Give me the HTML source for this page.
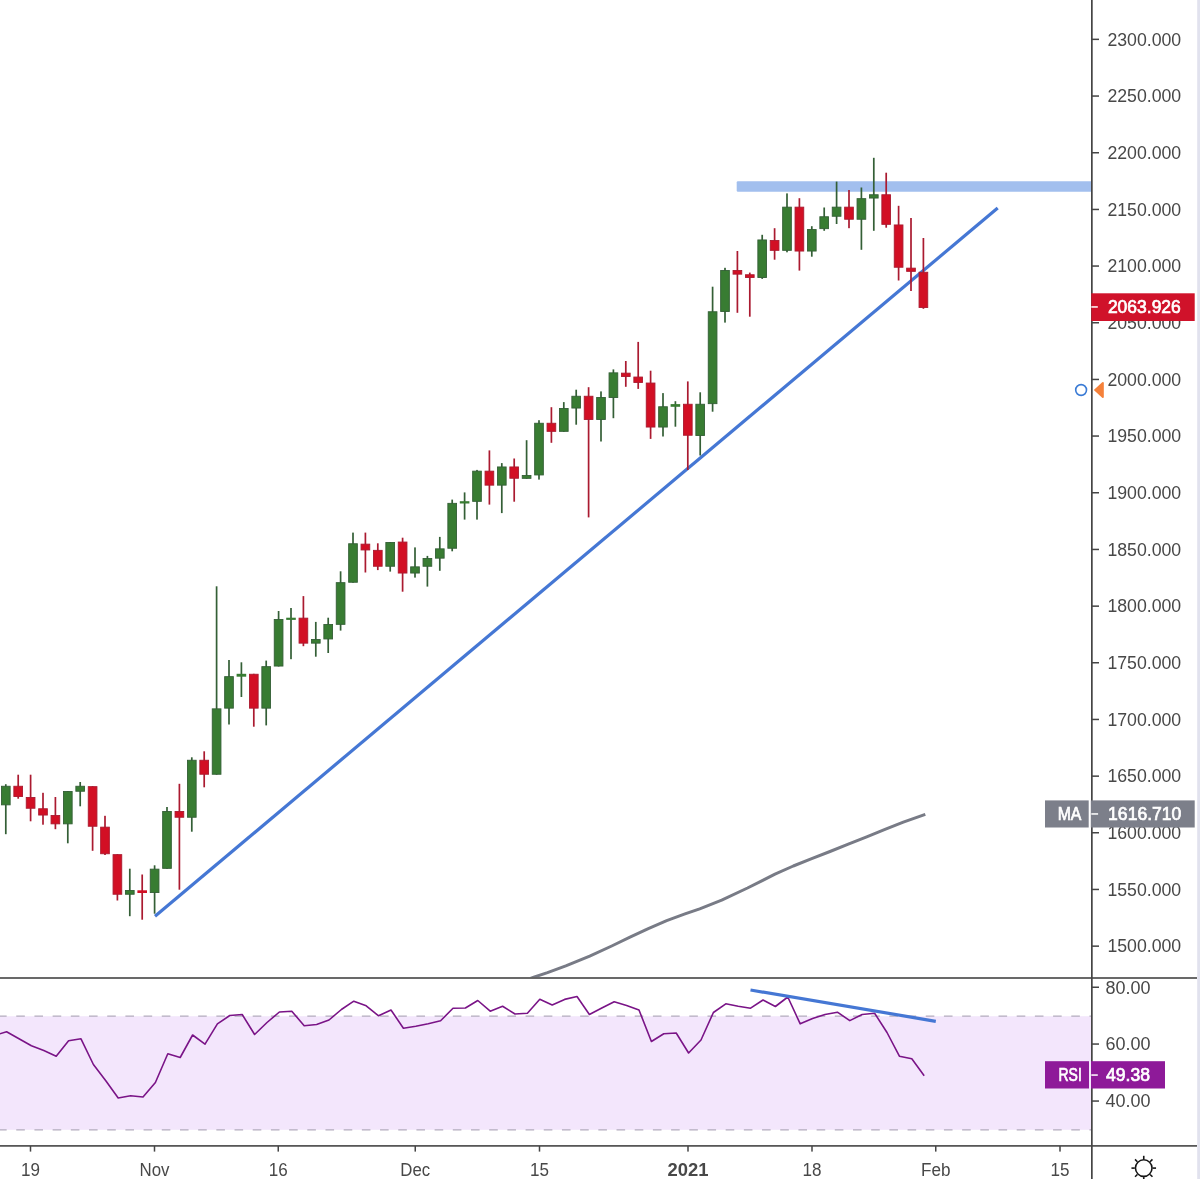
<!DOCTYPE html>
<html lang="en"><head><meta charset="utf-8"><title>Chart</title>
<style>html,body{margin:0;padding:0;background:#fff}body{width:1200px;height:1179px;overflow:hidden}svg{display:block}text{font-family:"Liberation Sans",sans-serif;font-size:18px}</style></head><body>
<svg width="1200" height="1179" viewBox="0 0 1200 1179">
<rect width="1200" height="1179" fill="#fff"/>
<rect x="1197.2" y="0" width="2.8" height="1179" fill="#e1e2ee"/>
<defs><clipPath id="mp"><rect x="0" y="0" width="1091" height="977.3"/></clipPath><clipPath id="rp"><rect x="0" y="978.7" width="1091" height="166.5"/></clipPath></defs>
<g clip-path="url(#mp)">
<rect x="736.7" y="181.2" width="360" height="10.5" rx="1.2" fill="#a2bfee"/>
<polyline fill="none" stroke="#787b86" stroke-width="3" stroke-linejoin="round" points="530.5,978.4 533.8,977.2 547.5,972.6 565.8,965.8 589.7,956.1 611.7,946.0 630.0,937.2 648.3,928.6 666.7,920.7 685.0,913.9 699.7,908.8 721.7,900.2 747.5,888.0 775.0,874.2 793.3,866.0 811.7,858.6 830.0,851.5 848.3,844.1 866.7,836.8 885.0,829.3 903.3,822.1 925.3,814.3"/>
<line x1="155" y1="916.3" x2="997.7" y2="208" stroke="#4577d4" stroke-width="3.2"/>
<rect x="4.95" y="784.2" width="1.7" height="50.0" fill="#345f36"/>
<rect x="1.45" y="786.25" width="8.7" height="18.60" fill="#387c32" stroke="#345f36" stroke-width="0.9"/>
<rect x="17.35" y="774.7" width="1.7" height="24.0" fill="#aa1a30"/>
<rect x="13.85" y="786.25" width="8.7" height="10.30" fill="#d20f24" stroke="#aa1a30" stroke-width="0.9"/>
<rect x="29.75" y="774.7" width="1.7" height="46.6" fill="#aa1a30"/>
<rect x="26.25" y="797.45" width="8.7" height="10.80" fill="#d20f24" stroke="#aa1a30" stroke-width="0.9"/>
<rect x="42.15" y="792.8" width="1.7" height="31.9" fill="#aa1a30"/>
<rect x="38.65" y="808.75" width="8.7" height="6.30" fill="#d20f24" stroke="#aa1a30" stroke-width="0.9"/>
<rect x="54.55" y="797.0" width="1.7" height="32.2" fill="#aa1a30"/>
<rect x="51.05" y="815.45" width="8.7" height="8.40" fill="#d20f24" stroke="#aa1a30" stroke-width="0.9"/>
<rect x="66.95" y="791.0" width="1.7" height="52.3" fill="#345f36"/>
<rect x="63.45" y="791.45" width="8.7" height="32.40" fill="#387c32" stroke="#345f36" stroke-width="0.9"/>
<rect x="79.35" y="782.0" width="1.7" height="24.3" fill="#345f36"/>
<rect x="75.85" y="786.25" width="8.7" height="5.00" fill="#387c32" stroke="#345f36" stroke-width="0.9"/>
<rect x="91.75" y="786.2" width="1.7" height="64.6" fill="#aa1a30"/>
<rect x="88.25" y="786.65" width="8.7" height="39.60" fill="#d20f24" stroke="#aa1a30" stroke-width="0.9"/>
<rect x="104.15" y="815.8" width="1.7" height="39.2" fill="#aa1a30"/>
<rect x="100.65" y="827.15" width="8.7" height="26.60" fill="#d20f24" stroke="#aa1a30" stroke-width="0.9"/>
<rect x="116.55" y="854.2" width="1.7" height="46.3" fill="#aa1a30"/>
<rect x="113.05" y="854.65" width="8.7" height="39.60" fill="#d20f24" stroke="#aa1a30" stroke-width="0.9"/>
<rect x="128.95" y="868.7" width="1.7" height="47.5" fill="#345f36"/>
<rect x="125.45" y="890.45" width="8.7" height="3.80" fill="#387c32" stroke="#345f36" stroke-width="0.9"/>
<rect x="141.35" y="874.5" width="1.7" height="45.2" fill="#aa1a30"/>
<rect x="137.40" y="890.3" width="9.6" height="2.7" fill="#d20f24"/>
<rect x="153.75" y="865.3" width="1.7" height="48.4" fill="#345f36"/>
<rect x="150.25" y="869.15" width="8.7" height="23.40" fill="#387c32" stroke="#345f36" stroke-width="0.9"/>
<rect x="166.15" y="807.0" width="1.7" height="61.8" fill="#345f36"/>
<rect x="162.65" y="811.45" width="8.7" height="56.90" fill="#387c32" stroke="#345f36" stroke-width="0.9"/>
<rect x="178.55" y="783.8" width="1.7" height="105.9" fill="#aa1a30"/>
<rect x="175.05" y="811.45" width="8.7" height="5.80" fill="#d20f24" stroke="#aa1a30" stroke-width="0.9"/>
<rect x="190.95" y="757.3" width="1.7" height="74.4" fill="#345f36"/>
<rect x="187.45" y="760.25" width="8.7" height="57.00" fill="#387c32" stroke="#345f36" stroke-width="0.9"/>
<rect x="203.35" y="751.3" width="1.7" height="36.0" fill="#aa1a30"/>
<rect x="199.85" y="760.25" width="8.7" height="14.00" fill="#d20f24" stroke="#aa1a30" stroke-width="0.9"/>
<rect x="215.75" y="586.3" width="1.7" height="188.4" fill="#345f36"/>
<rect x="212.25" y="708.85" width="8.7" height="65.40" fill="#387c32" stroke="#345f36" stroke-width="0.9"/>
<rect x="228.15" y="660.0" width="1.7" height="64.5" fill="#345f36"/>
<rect x="224.65" y="676.65" width="8.7" height="31.50" fill="#387c32" stroke="#345f36" stroke-width="0.9"/>
<rect x="240.55" y="662.3" width="1.7" height="34.7" fill="#345f36"/>
<rect x="236.60" y="673.8" width="9.6" height="2.9" fill="#387c32"/>
<rect x="252.95" y="673.8" width="1.7" height="52.9" fill="#aa1a30"/>
<rect x="249.45" y="674.25" width="8.7" height="33.90" fill="#d20f24" stroke="#aa1a30" stroke-width="0.9"/>
<rect x="265.35" y="660.6" width="1.7" height="64.8" fill="#345f36"/>
<rect x="261.85" y="666.65" width="8.7" height="41.50" fill="#387c32" stroke="#345f36" stroke-width="0.9"/>
<rect x="277.75" y="611.0" width="1.7" height="55.5" fill="#345f36"/>
<rect x="274.25" y="619.45" width="8.7" height="46.60" fill="#387c32" stroke="#345f36" stroke-width="0.9"/>
<rect x="290.15" y="608.0" width="1.7" height="51.2" fill="#345f36"/>
<rect x="286.20" y="617.7" width="9.6" height="2.2" fill="#387c32"/>
<rect x="302.55" y="596.1" width="1.7" height="50.1" fill="#aa1a30"/>
<rect x="299.05" y="618.15" width="8.7" height="25.00" fill="#d20f24" stroke="#aa1a30" stroke-width="0.9"/>
<rect x="314.95" y="621.9" width="1.7" height="34.8" fill="#345f36"/>
<rect x="311.45" y="639.45" width="8.7" height="3.70" fill="#387c32" stroke="#345f36" stroke-width="0.9"/>
<rect x="327.35" y="617.7" width="1.7" height="35.3" fill="#345f36"/>
<rect x="323.85" y="624.55" width="8.7" height="14.40" fill="#387c32" stroke="#345f36" stroke-width="0.9"/>
<rect x="339.75" y="571.3" width="1.7" height="59.3" fill="#345f36"/>
<rect x="336.25" y="582.65" width="8.7" height="41.70" fill="#387c32" stroke="#345f36" stroke-width="0.9"/>
<rect x="352.15" y="532.6" width="1.7" height="50.1" fill="#345f36"/>
<rect x="348.65" y="543.75" width="8.7" height="38.50" fill="#387c32" stroke="#345f36" stroke-width="0.9"/>
<rect x="364.55" y="532.6" width="1.7" height="39.9" fill="#aa1a30"/>
<rect x="361.05" y="544.15" width="8.7" height="5.80" fill="#d20f24" stroke="#aa1a30" stroke-width="0.9"/>
<rect x="376.95" y="543.3" width="1.7" height="26.8" fill="#aa1a30"/>
<rect x="373.45" y="550.35" width="8.7" height="15.90" fill="#d20f24" stroke="#aa1a30" stroke-width="0.9"/>
<rect x="389.35" y="542.0" width="1.7" height="29.6" fill="#345f36"/>
<rect x="385.85" y="542.45" width="8.7" height="23.80" fill="#387c32" stroke="#345f36" stroke-width="0.9"/>
<rect x="401.75" y="537.7" width="1.7" height="54.0" fill="#aa1a30"/>
<rect x="398.25" y="542.05" width="8.7" height="31.00" fill="#d20f24" stroke="#aa1a30" stroke-width="0.9"/>
<rect x="414.15" y="547.4" width="1.7" height="30.2" fill="#345f36"/>
<rect x="410.65" y="566.85" width="8.7" height="6.20" fill="#387c32" stroke="#345f36" stroke-width="0.9"/>
<rect x="426.55" y="555.9" width="1.7" height="30.7" fill="#345f36"/>
<rect x="423.05" y="558.55" width="8.7" height="7.70" fill="#387c32" stroke="#345f36" stroke-width="0.9"/>
<rect x="438.95" y="536.9" width="1.7" height="33.9" fill="#345f36"/>
<rect x="435.45" y="548.85" width="8.7" height="9.30" fill="#387c32" stroke="#345f36" stroke-width="0.9"/>
<rect x="451.35" y="499.6" width="1.7" height="51.7" fill="#345f36"/>
<rect x="447.85" y="503.35" width="8.7" height="44.90" fill="#387c32" stroke="#345f36" stroke-width="0.9"/>
<rect x="463.75" y="492.4" width="1.7" height="27.2" fill="#345f36"/>
<rect x="459.80" y="501.2" width="9.6" height="2.3" fill="#387c32"/>
<rect x="476.15" y="469.9" width="1.7" height="49.7" fill="#345f36"/>
<rect x="472.65" y="471.15" width="8.7" height="30.20" fill="#387c32" stroke="#345f36" stroke-width="0.9"/>
<rect x="488.55" y="450.4" width="1.7" height="54.2" fill="#aa1a30"/>
<rect x="485.05" y="471.15" width="8.7" height="14.00" fill="#d20f24" stroke="#aa1a30" stroke-width="0.9"/>
<rect x="500.95" y="463.1" width="1.7" height="50.0" fill="#345f36"/>
<rect x="497.45" y="466.95" width="8.7" height="18.20" fill="#387c32" stroke="#345f36" stroke-width="0.9"/>
<rect x="513.35" y="458.5" width="1.7" height="43.2" fill="#aa1a30"/>
<rect x="509.85" y="466.95" width="8.7" height="11.30" fill="#d20f24" stroke="#aa1a30" stroke-width="0.9"/>
<rect x="525.75" y="440.2" width="1.7" height="38.6" fill="#345f36"/>
<rect x="522.25" y="475.45" width="8.7" height="2.90" fill="#387c32" stroke="#345f36" stroke-width="0.9"/>
<rect x="538.15" y="420.2" width="1.7" height="59.4" fill="#345f36"/>
<rect x="534.65" y="423.25" width="8.7" height="51.70" fill="#387c32" stroke="#345f36" stroke-width="0.9"/>
<rect x="550.55" y="407.2" width="1.7" height="35.6" fill="#aa1a30"/>
<rect x="547.05" y="423.25" width="8.7" height="8.10" fill="#d20f24" stroke="#aa1a30" stroke-width="0.9"/>
<rect x="562.95" y="402.1" width="1.7" height="29.7" fill="#345f36"/>
<rect x="559.45" y="408.45" width="8.7" height="22.90" fill="#387c32" stroke="#345f36" stroke-width="0.9"/>
<rect x="575.35" y="389.7" width="1.7" height="35.0" fill="#345f36"/>
<rect x="571.85" y="396.25" width="8.7" height="11.80" fill="#387c32" stroke="#345f36" stroke-width="0.9"/>
<rect x="587.75" y="387.2" width="1.7" height="130.2" fill="#aa1a30"/>
<rect x="584.25" y="396.25" width="8.7" height="23.20" fill="#d20f24" stroke="#aa1a30" stroke-width="0.9"/>
<rect x="600.15" y="391.4" width="1.7" height="50.1" fill="#345f36"/>
<rect x="596.65" y="397.45" width="8.7" height="22.00" fill="#387c32" stroke="#345f36" stroke-width="0.9"/>
<rect x="612.55" y="369.4" width="1.7" height="48.8" fill="#345f36"/>
<rect x="609.05" y="372.85" width="8.7" height="24.60" fill="#387c32" stroke="#345f36" stroke-width="0.9"/>
<rect x="624.95" y="361.0" width="1.7" height="25.8" fill="#aa1a30"/>
<rect x="621.45" y="373.15" width="8.7" height="3.40" fill="#d20f24" stroke="#aa1a30" stroke-width="0.9"/>
<rect x="637.35" y="341.9" width="1.7" height="47.0" fill="#aa1a30"/>
<rect x="633.85" y="377.05" width="8.7" height="5.40" fill="#d20f24" stroke="#aa1a30" stroke-width="0.9"/>
<rect x="649.75" y="370.7" width="1.7" height="68.2" fill="#aa1a30"/>
<rect x="646.25" y="383.05" width="8.7" height="44.00" fill="#d20f24" stroke="#aa1a30" stroke-width="0.9"/>
<rect x="662.15" y="393.1" width="1.7" height="43.4" fill="#345f36"/>
<rect x="658.65" y="406.75" width="8.7" height="20.30" fill="#387c32" stroke="#345f36" stroke-width="0.9"/>
<rect x="674.55" y="401.2" width="1.7" height="25.5" fill="#345f36"/>
<rect x="670.60" y="404.1" width="9.6" height="2.7" fill="#387c32"/>
<rect x="686.95" y="381.4" width="1.7" height="88.6" fill="#aa1a30"/>
<rect x="683.45" y="404.25" width="8.7" height="31.00" fill="#d20f24" stroke="#aa1a30" stroke-width="0.9"/>
<rect x="699.35" y="392.3" width="1.7" height="63.2" fill="#345f36"/>
<rect x="695.85" y="404.25" width="8.7" height="31.30" fill="#387c32" stroke="#345f36" stroke-width="0.9"/>
<rect x="711.75" y="286.7" width="1.7" height="125.0" fill="#345f36"/>
<rect x="708.25" y="311.75" width="8.7" height="91.90" fill="#387c32" stroke="#345f36" stroke-width="0.9"/>
<rect x="724.15" y="267.8" width="1.7" height="54.8" fill="#345f36"/>
<rect x="720.65" y="270.45" width="8.7" height="41.00" fill="#387c32" stroke="#345f36" stroke-width="0.9"/>
<rect x="736.55" y="251.0" width="1.7" height="61.8" fill="#aa1a30"/>
<rect x="733.05" y="270.45" width="8.7" height="3.70" fill="#d20f24" stroke="#aa1a30" stroke-width="0.9"/>
<rect x="748.95" y="272.6" width="1.7" height="44.1" fill="#aa1a30"/>
<rect x="745.45" y="274.75" width="8.7" height="2.80" fill="#d20f24" stroke="#aa1a30" stroke-width="0.9"/>
<rect x="761.35" y="234.8" width="1.7" height="44.1" fill="#345f36"/>
<rect x="757.85" y="239.95" width="8.7" height="37.60" fill="#387c32" stroke="#345f36" stroke-width="0.9"/>
<rect x="773.75" y="228.2" width="1.7" height="31.5" fill="#aa1a30"/>
<rect x="770.25" y="240.45" width="8.7" height="9.90" fill="#d20f24" stroke="#aa1a30" stroke-width="0.9"/>
<rect x="786.15" y="193.4" width="1.7" height="58.9" fill="#345f36"/>
<rect x="782.65" y="207.15" width="8.7" height="43.20" fill="#387c32" stroke="#345f36" stroke-width="0.9"/>
<rect x="798.55" y="198.2" width="1.7" height="72.4" fill="#aa1a30"/>
<rect x="795.05" y="207.15" width="8.7" height="43.90" fill="#d20f24" stroke="#aa1a30" stroke-width="0.9"/>
<rect x="810.95" y="226.2" width="1.7" height="30.5" fill="#345f36"/>
<rect x="807.45" y="229.55" width="8.7" height="21.50" fill="#387c32" stroke="#345f36" stroke-width="0.9"/>
<rect x="823.35" y="207.5" width="1.7" height="23.3" fill="#345f36"/>
<rect x="819.85" y="216.75" width="8.7" height="11.90" fill="#387c32" stroke="#345f36" stroke-width="0.9"/>
<rect x="835.75" y="181.6" width="1.7" height="42.4" fill="#345f36"/>
<rect x="832.25" y="207.15" width="8.7" height="9.10" fill="#387c32" stroke="#345f36" stroke-width="0.9"/>
<rect x="848.15" y="190.0" width="1.7" height="38.2" fill="#aa1a30"/>
<rect x="844.65" y="207.15" width="8.7" height="12.10" fill="#d20f24" stroke="#aa1a30" stroke-width="0.9"/>
<rect x="860.55" y="187.5" width="1.7" height="62.3" fill="#345f36"/>
<rect x="857.05" y="198.65" width="8.7" height="20.60" fill="#387c32" stroke="#345f36" stroke-width="0.9"/>
<rect x="872.95" y="157.8" width="1.7" height="73.0" fill="#345f36"/>
<rect x="869.45" y="194.75" width="8.7" height="3.30" fill="#387c32" stroke="#345f36" stroke-width="0.9"/>
<rect x="885.35" y="172.7" width="1.7" height="55.0" fill="#aa1a30"/>
<rect x="881.85" y="194.75" width="8.7" height="29.60" fill="#d20f24" stroke="#aa1a30" stroke-width="0.9"/>
<rect x="897.75" y="205.8" width="1.7" height="74.7" fill="#aa1a30"/>
<rect x="894.25" y="224.95" width="8.7" height="42.30" fill="#d20f24" stroke="#aa1a30" stroke-width="0.9"/>
<rect x="910.15" y="218.0" width="1.7" height="73.0" fill="#aa1a30"/>
<rect x="906.65" y="268.15" width="8.7" height="3.20" fill="#d20f24" stroke="#aa1a30" stroke-width="0.9"/>
<rect x="922.55" y="238.0" width="1.7" height="70.8" fill="#aa1a30"/>
<rect x="919.05" y="272.25" width="8.7" height="35.20" fill="#d20f24" stroke="#aa1a30" stroke-width="0.9"/>
</g>
<g clip-path="url(#rp)">
<rect x="0" y="1016.2" width="1091" height="113.6" fill="#f3e6fc"/>
<line x1="-1.94" y1="1016.2" x2="1091" y2="1016.2" stroke="#b3acbd" stroke-width="1.2" stroke-dasharray="8.6 9.59"/>
<line x1="-1.94" y1="1129.9" x2="1091" y2="1129.9" stroke="#b3acbd" stroke-width="1.2" stroke-dasharray="8.6 9.59"/>
<polyline fill="none" stroke="#7a1487" stroke-width="1.6" stroke-linejoin="round" points="-5.8,1035.5 6.6,1031.8 19.0,1038.8 31.4,1045.8 43.8,1050.5 56.2,1056.2 68.6,1040.8 81.0,1038.8 93.4,1064.5 105.8,1080.8 118.2,1098.0 130.6,1095.8 143.0,1097.0 155.4,1082.5 167.8,1053.8 180.2,1057.5 192.6,1035.0 205.0,1044.2 217.4,1023.8 229.8,1015.5 242.2,1014.5 254.6,1034.5 267.0,1022.5 279.4,1012.0 291.8,1011.2 304.2,1025.8 316.6,1024.5 329.0,1020.0 341.4,1009.5 353.8,1001.2 366.2,1005.8 378.6,1015.8 391.0,1010.0 403.4,1028.2 415.8,1026.2 428.2,1023.8 440.6,1020.8 453.0,1008.2 465.4,1008.0 477.8,1000.5 490.2,1011.2 502.6,1006.2 515.0,1014.0 527.4,1013.2 539.8,999.2 552.2,1005.0 564.6,999.4 577.0,996.5 589.4,1014.5 601.8,1008.0 614.2,1001.8 626.6,1005.5 639.0,1010.0 651.4,1041.5 663.8,1033.8 676.2,1033.0 688.6,1053.0 701.0,1040.0 713.4,1012.5 725.8,1003.8 738.2,1006.2 750.6,1008.2 763.0,1000.0 775.4,1006.5 787.8,997.0 800.2,1023.8 812.6,1018.5 825.0,1014.5 837.4,1012.2 849.8,1020.6 862.2,1014.5 874.6,1013.2 887.0,1032.5 899.4,1056.2 911.8,1058.8 924.2,1075.8"/>
<line x1="750.5" y1="990" x2="935.8" y2="1021.3" stroke="#4577d4" stroke-width="3.2"/>
</g>
<rect x="1091" y="0" width="1.7" height="1179" fill="#454545"/>
<rect x="0" y="977.2" width="1197" height="1.6" fill="#454545"/>
<rect x="0" y="1145.1" width="1197" height="1.6" fill="#454545"/>
<rect x="1092" y="38.6" width="7" height="1.5" fill="#454545"/>
<text x="1107.4" y="45.7" textLength="73.8" lengthAdjust="spacingAndGlyphs" fill="#484848">2300.000</text>
<rect x="1092" y="95.3" width="7" height="1.5" fill="#454545"/>
<text x="1107.4" y="102.4" textLength="73.8" lengthAdjust="spacingAndGlyphs" fill="#484848">2250.000</text>
<rect x="1092" y="152.0" width="7" height="1.5" fill="#454545"/>
<text x="1107.4" y="159.0" textLength="73.8" lengthAdjust="spacingAndGlyphs" fill="#484848">2200.000</text>
<rect x="1092" y="208.7" width="7" height="1.5" fill="#454545"/>
<text x="1107.4" y="215.7" textLength="73.8" lengthAdjust="spacingAndGlyphs" fill="#484848">2150.000</text>
<rect x="1092" y="265.3" width="7" height="1.5" fill="#454545"/>
<text x="1107.4" y="272.4" textLength="73.8" lengthAdjust="spacingAndGlyphs" fill="#484848">2100.000</text>
<rect x="1092" y="322.0" width="7" height="1.5" fill="#454545"/>
<text x="1107.4" y="329.1" textLength="73.8" lengthAdjust="spacingAndGlyphs" fill="#484848">2050.000</text>
<rect x="1092" y="378.7" width="7" height="1.5" fill="#454545"/>
<text x="1107.4" y="385.7" textLength="73.8" lengthAdjust="spacingAndGlyphs" fill="#484848">2000.000</text>
<rect x="1092" y="435.3" width="7" height="1.5" fill="#454545"/>
<text x="1107.4" y="442.4" textLength="73.8" lengthAdjust="spacingAndGlyphs" fill="#484848">1950.000</text>
<rect x="1092" y="492.0" width="7" height="1.5" fill="#454545"/>
<text x="1107.4" y="499.1" textLength="73.8" lengthAdjust="spacingAndGlyphs" fill="#484848">1900.000</text>
<rect x="1092" y="548.7" width="7" height="1.5" fill="#454545"/>
<text x="1107.4" y="555.7" textLength="73.8" lengthAdjust="spacingAndGlyphs" fill="#484848">1850.000</text>
<rect x="1092" y="605.4" width="7" height="1.5" fill="#454545"/>
<text x="1107.4" y="612.4" textLength="73.8" lengthAdjust="spacingAndGlyphs" fill="#484848">1800.000</text>
<rect x="1092" y="662.0" width="7" height="1.5" fill="#454545"/>
<text x="1107.4" y="669.1" textLength="73.8" lengthAdjust="spacingAndGlyphs" fill="#484848">1750.000</text>
<rect x="1092" y="718.7" width="7" height="1.5" fill="#454545"/>
<text x="1107.4" y="725.7" textLength="73.8" lengthAdjust="spacingAndGlyphs" fill="#484848">1700.000</text>
<rect x="1092" y="775.4" width="7" height="1.5" fill="#454545"/>
<text x="1107.4" y="782.4" textLength="73.8" lengthAdjust="spacingAndGlyphs" fill="#484848">1650.000</text>
<rect x="1092" y="832.0" width="7" height="1.5" fill="#454545"/>
<text x="1107.4" y="839.1" textLength="73.8" lengthAdjust="spacingAndGlyphs" fill="#484848">1600.000</text>
<rect x="1092" y="888.7" width="7" height="1.5" fill="#454545"/>
<text x="1107.4" y="895.8" textLength="73.8" lengthAdjust="spacingAndGlyphs" fill="#484848">1550.000</text>
<rect x="1092" y="945.4" width="7" height="1.5" fill="#454545"/>
<text x="1107.4" y="952.4" textLength="73.8" lengthAdjust="spacingAndGlyphs" fill="#484848">1500.000</text>
<rect x="1092" y="986.5" width="7" height="1.5" fill="#454545"/>
<text x="1105.4" y="993.6" textLength="45.0" lengthAdjust="spacingAndGlyphs" fill="#484848">80.00</text>
<rect x="1092" y="1043.3" width="7" height="1.5" fill="#454545"/>
<text x="1105.4" y="1050.4" textLength="45.0" lengthAdjust="spacingAndGlyphs" fill="#484848">60.00</text>
<rect x="1092" y="1100.3" width="7" height="1.5" fill="#454545"/>
<text x="1105.4" y="1107.4" textLength="45.0" lengthAdjust="spacingAndGlyphs" fill="#484848">40.00</text>
<rect x="29.75" y="1146" width="1.5" height="5.6" fill="#454545"/>
<text x="30.5" y="1175.8" textLength="19.0" lengthAdjust="spacingAndGlyphs" fill="#484848" text-anchor="middle">19</text>
<rect x="153.75" y="1146" width="1.5" height="5.6" fill="#454545"/>
<text x="154.5" y="1175.8" textLength="30.0" lengthAdjust="spacingAndGlyphs" fill="#484848" text-anchor="middle">Nov</text>
<rect x="277.50" y="1146" width="1.5" height="5.6" fill="#454545"/>
<text x="278.2" y="1175.8" textLength="19.0" lengthAdjust="spacingAndGlyphs" fill="#484848" text-anchor="middle">16</text>
<rect x="414.50" y="1146" width="1.5" height="5.6" fill="#454545"/>
<text x="415.2" y="1175.8" textLength="29.8" lengthAdjust="spacingAndGlyphs" fill="#484848" text-anchor="middle">Dec</text>
<rect x="538.75" y="1146" width="1.5" height="5.6" fill="#454545"/>
<text x="539.5" y="1175.8" textLength="19.0" lengthAdjust="spacingAndGlyphs" fill="#484848" text-anchor="middle">15</text>
<rect x="687.25" y="1146" width="1.5" height="5.6" fill="#454545"/>
<text x="688.0" y="1175.8" textLength="41.0" lengthAdjust="spacingAndGlyphs" fill="#484848" font-weight="bold" text-anchor="middle">2021</text>
<rect x="811.25" y="1146" width="1.5" height="5.6" fill="#454545"/>
<text x="812.0" y="1175.8" textLength="19.0" lengthAdjust="spacingAndGlyphs" fill="#484848" text-anchor="middle">18</text>
<rect x="935.00" y="1146" width="1.5" height="5.6" fill="#454545"/>
<text x="935.8" y="1175.8" textLength="29.5" lengthAdjust="spacingAndGlyphs" fill="#484848" text-anchor="middle">Feb</text>
<rect x="1059.25" y="1146" width="1.5" height="5.6" fill="#454545"/>
<text x="1060.0" y="1175.8" textLength="19.0" lengthAdjust="spacingAndGlyphs" fill="#484848" text-anchor="middle">15</text>
<rect x="1091.3" y="293.3" width="103.4" height="27.7" fill="#d0122a"/>
<rect x="1091.3" y="306.2" width="6.5" height="1.5" fill="#fff"/>
<text x="1107.9" y="313.3" textLength="72.9" lengthAdjust="spacingAndGlyphs" fill="#fff" stroke="#fff" stroke-width="0.7">2063.926</text>
<circle cx="1081.1" cy="390" r="5.4" fill="#fff" stroke="#3a7bd5" stroke-width="1.6"/>
<path d="M1093.8 390 L1102.2 382.2 Q1103.8 381.4 1103.8 383.2 L1103.8 396.8 Q1103.8 398.6 1102.2 397.8 Z" fill="#f5813a"/>
<rect x="1045" y="800.4" width="43.7" height="27.1" fill="#7c7f8a"/>
<rect x="1090.8" y="800.4" width="103.9" height="27.1" fill="#7c7f8a"/>
<rect x="1091.3" y="813.2" width="6.8" height="1.5" fill="#fff"/>
<text x="1057.7" y="820.1" textLength="23.7" lengthAdjust="spacingAndGlyphs" fill="#fff" stroke="#fff" stroke-width="0.7">MA</text>
<text x="1108.1" y="820.1" textLength="73.3" lengthAdjust="spacingAndGlyphs" fill="#fff" stroke="#fff" stroke-width="0.7">1616.710</text>
<rect x="1045" y="1061.2" width="44" height="27.3" fill="#8e1a99"/>
<rect x="1091" y="1061.2" width="74" height="27.3" fill="#8e1a99"/>
<rect x="1091.3" y="1074.3" width="6.5" height="1.5" fill="#fff"/>
<text x="1058.5" y="1081.1" textLength="23.3" lengthAdjust="spacingAndGlyphs" fill="#fff" stroke="#fff" stroke-width="0.7">RSI</text>
<text x="1105.9" y="1081.1" textLength="44.1" lengthAdjust="spacingAndGlyphs" fill="#fff" stroke="#fff" stroke-width="0.7">49.38</text>
<g stroke="#151515" stroke-width="1.6" fill="none" stroke-linecap="butt">
<circle cx="1143.75" cy="1168.10" r="8.3"/>
<line x1="1152.75" y1="1168.10" x2="1156.05" y2="1168.10"/>
<line x1="1150.11" y1="1174.46" x2="1152.45" y2="1176.80"/>
<line x1="1143.75" y1="1177.10" x2="1143.75" y2="1180.40"/>
<line x1="1137.39" y1="1174.46" x2="1135.05" y2="1176.80"/>
<line x1="1134.75" y1="1168.10" x2="1131.45" y2="1168.10"/>
<line x1="1137.39" y1="1161.74" x2="1135.05" y2="1159.40"/>
<line x1="1143.75" y1="1159.10" x2="1143.75" y2="1155.80"/>
<line x1="1150.11" y1="1161.74" x2="1152.45" y2="1159.40"/>
</g>
</svg></body></html>
